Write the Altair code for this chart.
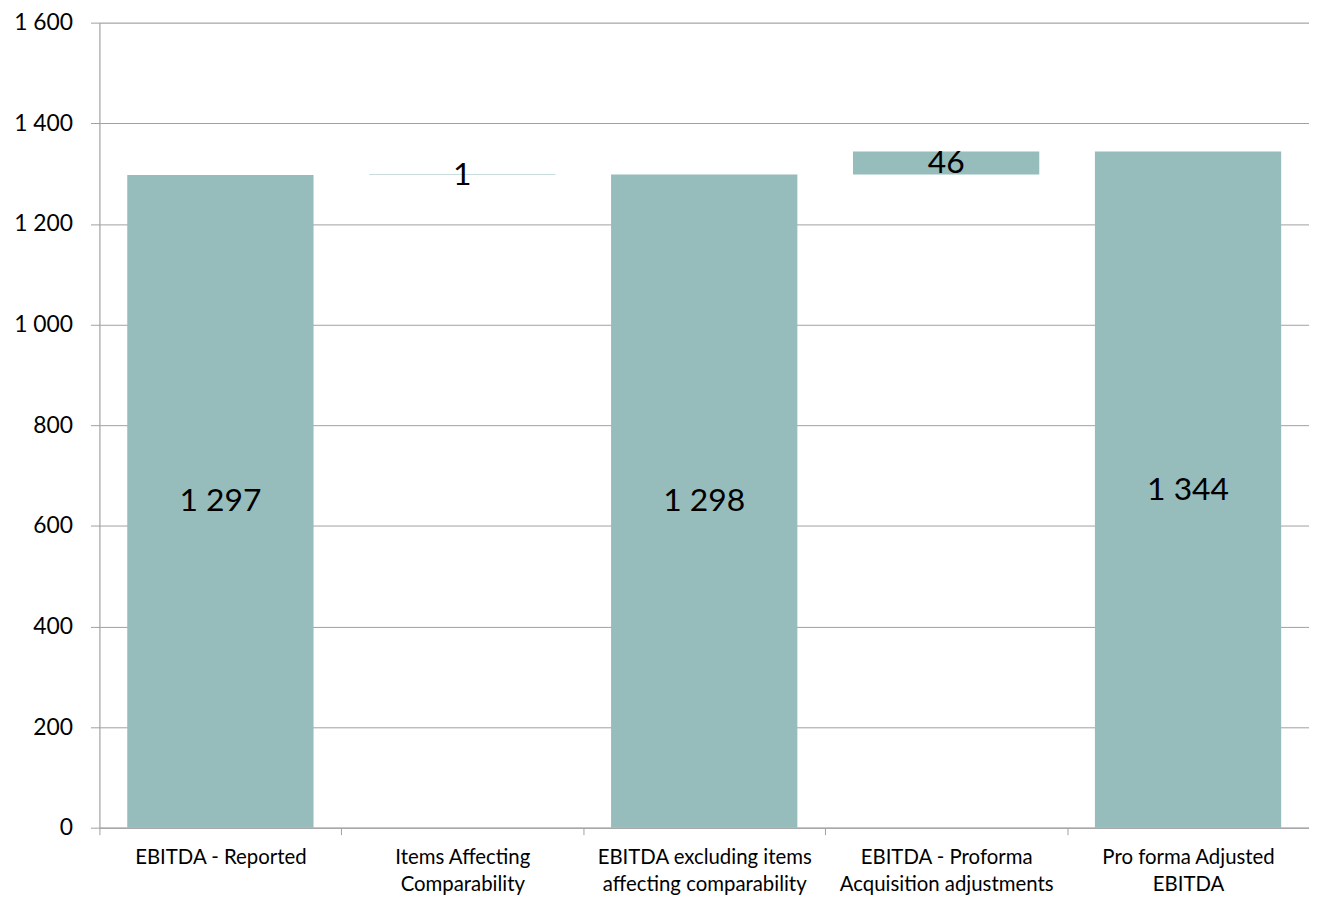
import altair as alt
import pandas as pd

categories = [
    "EBITDA - Reported",
    "Items Affecting|Comparability",
    "EBITDA excluding items|affecting comparability",
    "EBITDA - Proforma|Acquisition adjustments",
    "Pro forma Adjusted|EBITDA",
]
values = [1297, 1, 1298, 46, 1344]
is_total = [True, False, True, False, True]

rows = []
running = 0
for c, v, t in zip(categories, values, is_total):
    if t:
        start, end = 0, v
        running = v
    else:
        start, end = running, running + v
        running = end
    rows.append({"cat": c, "start": start, "end": end, "mid": (start + end) / 2,
                 "label": f"{v:,}".replace(",", " ")})
df = pd.DataFrame(rows)

FONT = "Lato"
COLOR = "#96BCBB"
W = 1217
STEP = W / len(categories)

x = alt.X("cat:N", sort=categories, title=None,
          scale=alt.Scale(paddingInner=0.23, paddingOuter=0.115),
          axis=alt.Axis(labelExpr="split(datum.label, '|')", labelAngle=0,
                        labelFont=FONT, labelFontSize=20.5, labelColor="#000000",
                        labelLineHeight=27, labelPadding=13, labelLimit=400,
                        tickOffset=-STEP / 2, labelOffset=STEP / 2,
                        tickSize=7, tickColor="#A0A0A0", domainColor="#A0A0A0",
                        grid=False, labelBaseline="top"))

bars = alt.Chart(df).mark_bar(color=COLOR).encode(
    x=x,
    y=alt.Y("start:Q", title=None,
            scale=alt.Scale(domain=[0, 1600], nice=False),
            axis=alt.Axis(values=list(range(0, 1601, 200)),
                          labelExpr="replace(format(datum.value, ','), ',', ' ')",
                          labelFont=FONT, labelFontSize=23, labelColor="#000000",
                          labelPadding=18, tickSize=9, tickColor="#A0A0A0",
                          gridColor="#A0A0A0", domainColor="#A0A0A0")),
    y2="end:Q",
)

text = alt.Chart(df).mark_text(font=FONT, fontSize=32, color="#000000",
                               baseline="middle").encode(
    x=alt.X("cat:N", sort=categories),
    y=alt.Y("mid:Q"),
    text="label:N",
)

chart = (bars + text).properties(
    width=W, height=810,
    padding={"left": 92, "top": 12, "right": 0, "bottom": 65},
    autosize=alt.AutoSizeParams(type="none"),
).configure_view(stroke=None).configure(background="white")

chart.save("out.html", embed_options={"renderer": "svg", "actions": False})
